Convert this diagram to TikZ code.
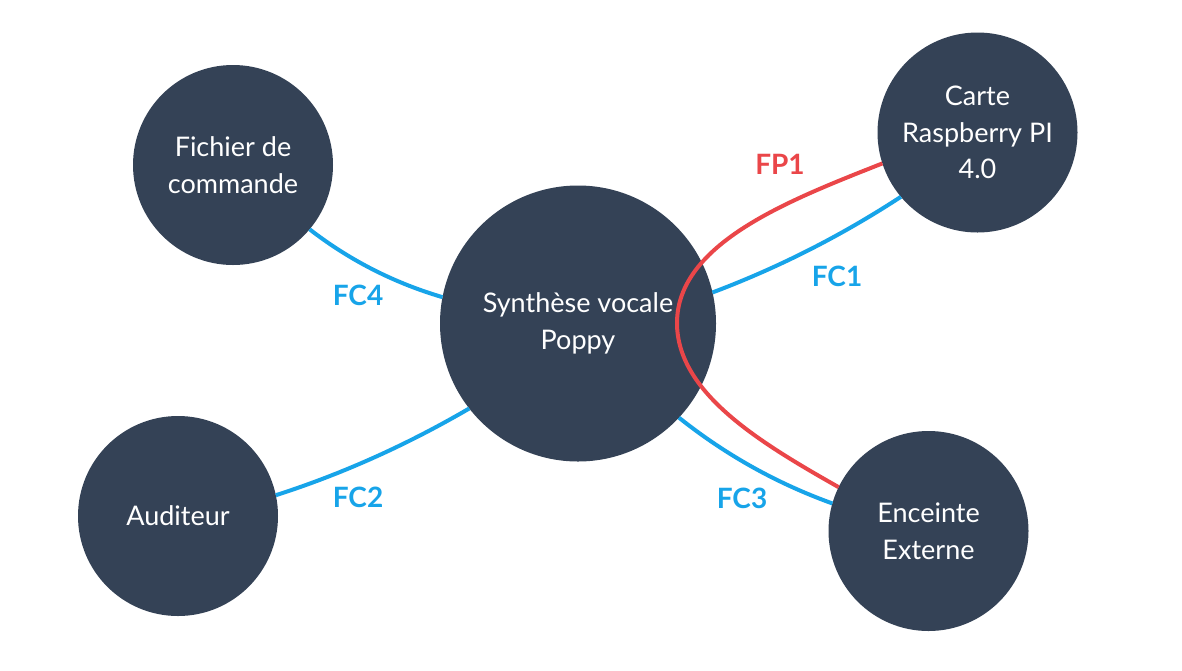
\documentclass[tikz,border=0pt]{standalone}
\usepackage{fontspec}
\setmainfont{Lato}
\definecolor{navy}{HTML}{344256}
\definecolor{fcblue}{HTML}{17A4E9}
\definecolor{fpred}{HTML}{EA4649}
\begin{document}
\begin{tikzpicture}[x=1pt,y=-1pt,
  bubble/.style={circle,fill=navy,text=white,inner sep=0pt,outer sep=0pt,
    align=center,font=\fontsize{27}{36.5}\selectfont},
  fc/.style={draw=fcblue,line width=4pt},
  fp/.style={draw=fpred,line width=4pt},
  fclabel/.style={text=fcblue,font=\fontsize{28}{30}\bfseries\selectfont,inner sep=0pt},
  fplabel/.style={text=fpred,font=\fontsize{28}{30}\bfseries\selectfont,inner sep=0pt}]
\useasboundingbox[fill=white] (0,0) rectangle (1182,670);
\node[bubble,minimum size=200pt] (fic) at (233,165) {Fichier de\\commande};
\node[bubble,minimum size=276pt] (syn) at (578,323.5) {Synthèse vocale\\Poppy};
\node[bubble,minimum size=200pt] (carte) at (977.5,132.5) {Carte\\Raspberry PI\\4.0};
\node[bubble,minimum size=200pt] (aud) at (178,516) {Auditeur};
\node[bubble,minimum size=200pt] (enc) at (928.5,531) {Enceinte\\Externe};
% blue connectors
\draw[fc] (fic.-40) .. controls (350,260.6) and (394.5,283) .. (syn.169);
\draw[fc] (aud.12) .. controls (344.3,473.2) and (408.3,444) .. (syn.218);
\draw[fc] (syn.13) .. controls (780,267) and (842.4,235) .. (carte.220);
\draw[fc] (syn.317) .. controls (726,455.2) and (777.4,483.6) .. (enc.164);
% red connector
\coordinate (fpmid) at (677,323);
\draw[fp] (carte.198) .. controls (790,200) and (677,243) .. (fpmid)
  .. controls (677,393) and (760.7,443) .. (enc.154);
% labels
\node[fplabel] (lfp1) at (780,164) {FP1};
\node[fclabel] (lfc1) at (837,276) {FC1};
\node[fclabel] (lfc2) at (358,497) {FC2};
\node[fclabel] (lfc3) at (742,498) {FC3};
\node[fclabel] (lfc4) at (358,295) {FC4};
\end{tikzpicture}
\end{document}
